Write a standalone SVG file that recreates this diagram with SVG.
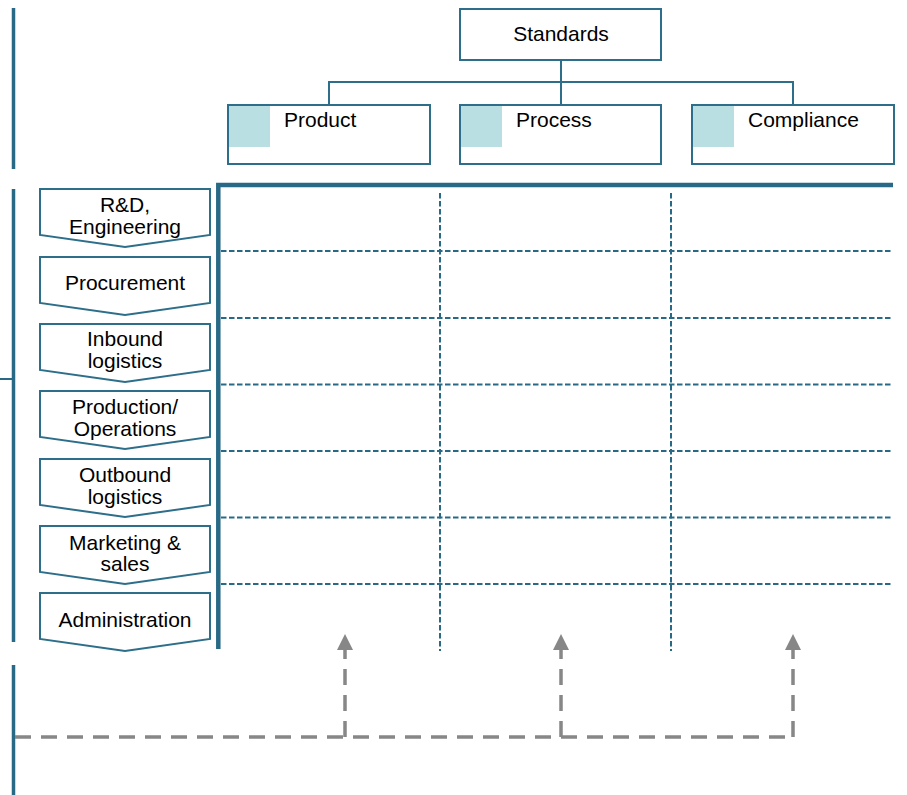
<svg xmlns="http://www.w3.org/2000/svg" width="907" height="795" viewBox="0 0 907 795">
  <style>
    .txt { font-family: "Liberation Sans", Arial, sans-serif; font-size: 21px; fill: #000; }
    .mid { text-anchor: middle; }
    .box { fill: #fff; stroke: #2d6e8a; stroke-width: 2; }
    .chev { fill: #fff; stroke: #2d6e8a; stroke-width: 2; stroke-linejoin: miter; }
    .tag { fill: #b9dfe2; }
    .bar { stroke: #286a86; stroke-width: 3.5; fill: none; }
    .frame { stroke: #286a86; stroke-width: 4.5; fill: none; }
    .grid { stroke: #286a86; stroke-width: 2; stroke-dasharray: 5.5 2.5; fill: none; }
    .tree { stroke: #2d6e8a; stroke-width: 2; fill: none; }
    .feed { stroke: #878787; stroke-width: 3.5; stroke-dasharray: 16 10; fill: none; }
  </style>
  <defs>
    <marker id="tri" viewBox="0 0 16 16" refX="8" refY="16" markerWidth="16" markerHeight="16" markerUnits="userSpaceOnUse" orient="0">
      <path d="M0,16 L8,0 L16,16 Z" fill="#878787"/>
    </marker>
  </defs>

  <!-- left margin bars -->
  <g id="margin">
    <line class="bar" x1="13.5" y1="8" x2="13.5" y2="169"/>
    <line class="bar" x1="13.5" y1="189" x2="13.5" y2="642"/>
    <line class="bar" x1="13.5" y1="665" x2="13.5" y2="795"/>
    <line stroke="#286a86" stroke-width="2" x1="0" y1="379" x2="13" y2="379"/>
  </g>

  <!-- connectors -->
  <g id="connectors">
    <path class="tree" d="M561,60 V105 M329,105 V82 H793 V105"/>
    <line class="feed" x1="15" y1="737" x2="795" y2="737"/>
    <line class="feed" x1="345" y1="737" x2="345" y2="650" marker-end="url(#tri)"/>
    <line class="feed" x1="561" y1="737" x2="561" y2="650" marker-end="url(#tri)"/>
    <line class="feed" x1="793" y1="737" x2="793" y2="650" marker-end="url(#tri)"/>
  </g>

  <!-- matrix grid -->
  <g id="matrix">
    <line class="grid" x1="221" y1="251" x2="893" y2="251"/>
    <line class="grid" x1="221" y1="318" x2="893" y2="318"/>
    <line class="grid" x1="221" y1="384.5" x2="893" y2="384.5"/>
    <line class="grid" x1="221" y1="451" x2="893" y2="451"/>
    <line class="grid" x1="221" y1="517.5" x2="893" y2="517.5"/>
    <line class="grid" x1="221" y1="584" x2="893" y2="584"/>
    <line class="grid" x1="440" y1="193" x2="440" y2="651"/>
    <line class="grid" x1="671" y1="193" x2="671" y2="651"/>
    <path class="frame" d="M218.3,649 V185 H893"/>
  </g>

  <!-- standards tree -->
  <g id="standards">
    <rect class="box" x="460" y="9" width="201" height="51"/>
    <text class="txt mid" x="561" y="41">Standards</text>
  </g>
  <g id="product">
    <rect class="box" x="228" y="105" width="202" height="59"/>
    <rect class="tag" x="229" y="106" width="41" height="41"/>
    <text class="txt" x="284" y="127">Product</text>
  </g>
  <g id="process">
    <rect class="box" x="460" y="105" width="201" height="59"/>
    <rect class="tag" x="461" y="106" width="41" height="41"/>
    <text class="txt" x="516" y="127">Process</text>
  </g>
  <g id="compliance">
    <rect class="box" x="692" y="105" width="202" height="59"/>
    <rect class="tag" x="693" y="106" width="41" height="41"/>
    <text class="txt" x="748" y="127">Compliance</text>
  </g>

  <!-- value chain activities -->
  <g id="rd">
    <path class="chev" d="M40,189 H210 V235 L125,247 L40,235 Z"/>
    <text class="txt mid" x="125" y="212">R&amp;D,</text>
    <text class="txt mid" x="125" y="234">Engineering</text>
  </g>
  <g id="procurement">
    <path class="chev" d="M40,257 H210 V303 L125,315 L40,303 Z"/>
    <text class="txt mid" x="125" y="290">Procurement</text>
  </g>
  <g id="inbound">
    <path class="chev" d="M40,324 H210 V370 L125,382 L40,370 Z"/>
    <text class="txt mid" x="125" y="346">Inbound</text>
    <text class="txt mid" x="125" y="368">logistics</text>
  </g>
  <g id="production">
    <path class="chev" d="M40,391 H210 V437 L125,449 L40,437 Z"/>
    <text class="txt mid" x="125" y="414">Production/</text>
    <text class="txt mid" x="125" y="436">Operations</text>
  </g>
  <g id="outbound">
    <path class="chev" d="M40,459 H210 V505 L125,517 L40,505 Z"/>
    <text class="txt mid" x="125" y="482">Outbound</text>
    <text class="txt mid" x="125" y="504">logistics</text>
  </g>
  <g id="marketing">
    <path class="chev" d="M40,526 H210 V572 L125,584 L40,572 Z"/>
    <text class="txt mid" x="125" y="550">Marketing &amp;</text>
    <text class="txt mid" x="125" y="571">sales</text>
  </g>
  <g id="administration">
    <path class="chev" d="M40,593 H210 V639 L125,651 L40,639 Z"/>
    <text class="txt mid" x="125" y="627">Administration</text>
  </g>
</svg>
